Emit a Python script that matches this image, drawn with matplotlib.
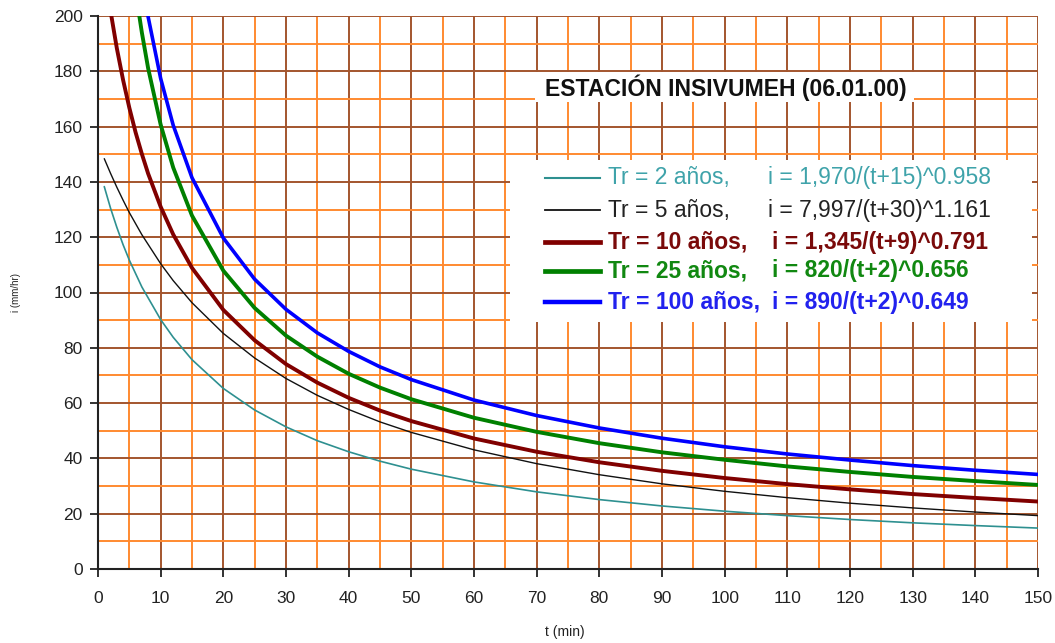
import matplotlib
matplotlib.use("Agg")
import matplotlib.pyplot as plt
from matplotlib.patches import Rectangle
from matplotlib.lines import Line2D

plt.rcParams['font.family'] = ['Liberation Sans', 'DejaVu Sans']

# ---------------- data ----------------
t_tr2 = [1, 2, 3, 4, 5, 7, 10, 12, 15, 20, 25, 30, 35, 40, 45, 50, 60, 70, 80, 90, 100, 110, 120, 130, 140, 150]
i_tr2 = [138.3, 130.5, 123.6, 117.3, 111.7, 102.0, 90.2, 83.8, 75.7, 65.3, 57.5, 51.4, 46.4, 42.4, 39.0, 36.1,
         31.5, 27.9, 25.1, 22.8, 20.9, 19.3, 17.9, 16.7, 15.7, 14.8]

t_tr5 = [1, 2, 3, 4, 5, 7, 10, 12, 15, 20, 25, 30, 35, 40, 45, 50, 60, 70, 80, 90, 100, 110, 120, 130, 140, 150]
i_tr5 = [148.4, 143.1, 138.1, 133.4, 128.9, 120.9, 110.4, 104.3, 96.3, 85.2, 76.3, 68.9, 62.8, 57.7, 53.2, 49.4,
         43.1, 38.1, 34.1, 30.8, 28.1, 25.8, 23.8, 22.1, 20.6, 19.3]

t_tr10 = [1, 2, 3, 4, 5, 6, 7, 8, 10, 12, 15, 20, 25, 30, 35, 40, 45, 50, 60, 70, 80, 90, 100, 110, 120, 130, 140, 150]
i_tr10 = [217.6, 201.8, 188.4, 176.9, 166.8, 157.9, 150.1, 143.0, 131.0, 121.0, 108.9, 93.7, 82.7, 74.1, 67.4,
          61.9, 57.3, 53.5, 47.2, 42.4, 38.6, 35.5, 32.9, 30.7, 28.8, 27.1, 25.7, 24.4]

t_tr25 = [6, 6.5, 7, 8, 10, 12, 15, 20, 25, 30, 35, 40, 45, 50, 60, 70, 80, 90, 100, 110, 120, 130, 140, 150]
i_tr25 = [209.6, 201.4, 194.0, 181.1, 160.7, 145.2, 127.8, 107.9, 94.4, 84.4, 76.8, 70.6, 65.6, 61.4, 54.7, 49.6,
          45.5, 42.2, 39.5, 37.1, 35.1, 33.3, 31.8, 30.4]

t_tr100 = [7, 8, 10, 12, 15, 20, 25, 30, 35, 40, 45, 50, 60, 70, 80, 90, 100, 110, 120, 130, 140, 150]
i_tr100 = [213.8, 199.7, 177.4, 160.5, 141.5, 119.7, 104.8, 93.9, 85.4, 78.7, 73.1, 68.5, 61.1, 55.5, 51.0, 47.3,
           44.2, 41.6, 39.4, 37.4, 35.7, 34.2]

labels_tr = ["Tr = 2 años,", "Tr = 5 años,", "Tr = 10 años,", "Tr = 25 años,", "Tr = 100 años,"]
labels_eq = ["i = 1,970/(t+15)^0.958", "i = 7,997/(t+30)^1.161", "i = 1,345/(t+9)^0.791",
             "i = 820/(t+2)^0.656", "i = 890/(t+2)^0.649"]
title_text = "ESTACIÓN INSIVUMEH (06.01.00)"
x_ticks = list(range(0, 151, 10))
y_ticks = list(range(0, 201, 20))

# ---------------- styling ----------------
W, H = 1055, 643
fig = plt.figure(figsize=(W / 100, H / 100), dpi=100)
L, R, T, B = 98, 1038, 16, 569
ax = fig.add_axes([L / W, 1 - B / H, (R - L) / W, (B - T) / H])

series = [(t_tr2, i_tr2), (t_tr5, i_tr5), (t_tr10, i_tr10), (t_tr25, i_tr25), (t_tr100, i_tr100)]
line_colors = ["#2E9090", "#111111", "#800000", "#008000", "#0000FF"]
text_colors = ["#3FA3AA", "#222222", "#7A0A0A", "#118811", "#2222EE"]
lws = [1.2, 1.0, 2.8, 2.8, 2.6]
weights = ["normal", "normal", "bold", "bold", "bold"]

for (tt, ii), c, lw in zip(series, line_colors, lws):
    ax.plot(tt, ii, color=c, lw=lw, zorder=4, solid_capstyle='round')

ax.set_xlim(0, 150)
ax.set_ylim(0, 200)
ax.set_xticks(x_ticks)
ax.set_yticks(y_ticks)
ax.set_xticks(range(0, 151, 5), minor=True)
ax.set_yticks(range(0, 201, 10), minor=True)
ax.grid(which='minor', color='#FF8A30', lw=1.4, zorder=1)
ax.grid(which='major', color='#A3552E', lw=1.4, zorder=2)
ax.set_axisbelow(True)
for s in ['top', 'right']:
    ax.spines[s].set_visible(False)
for s in ['left', 'bottom']:
    ax.spines[s].set_color('#222222')
    ax.spines[s].set_linewidth(1.5)
    ax.spines[s].set_zorder(5)
ax.tick_params(which='major', direction='out', length=6, width=1.3, color='#222222',
               labelsize=12.5, labelcolor='#222222', pad=5)
ax.tick_params(which='minor', length=0)
ax.tick_params(axis='x', pad=10)

fig.text(565 / W, 1 - 632 / H, "t (min)", ha='center', va='center', fontsize=10, color='#222222')
fig.text(16 / W, 1 - 292 / H, "i (mm/hr)", ha='center', va='center', rotation=90, fontsize=7,
         color='#222222')

# helper: figure pixel coords (from top-left) -> figure fraction
def fx(x):
    return x / W

def fy(y):
    return 1 - y / H

# title box
fig.patches.append(Rectangle((fx(535), fy(102)), (914 - 535) / W, (102 - 72) / H,
                             transform=fig.transFigure, facecolor='white', edgecolor='none', zorder=6))
fig.text(fx(545), fy(88), title_text, ha='left', va='center', fontsize=16.6, fontweight='bold',
         color='#111111', zorder=7)

# legend box
fig.patches.append(Rectangle((fx(510), fy(322)), (1032 - 510) / W, (322 - 160) / H,
                             transform=fig.transFigure, facecolor='white', edgecolor='none', zorder=6))
rows = [178, 210, 242, 271, 302]
eq_x = [768, 768, 772, 772, 772]
for k in range(5):
    y = rows[k]
    fig.lines.append(Line2D([fx(545), fx(600)], [fy(y), fy(y)], transform=fig.transFigure,
                            color=line_colors[k], lw=lws[k] + (0.6 if k >= 2 else 0.3), zorder=7))
    fig.text(fx(608), fy(y), labels_tr[k], ha='left', va='center', fontsize=16.5,
             fontweight=weights[k], color=text_colors[k], zorder=7)
    fig.text(fx(eq_x[k]), fy(y), labels_eq[k], ha='left', va='center', fontsize=16.5,
             fontweight=weights[k], color=text_colors[k], zorder=7)

fig.savefig("out.png", dpi=100)
